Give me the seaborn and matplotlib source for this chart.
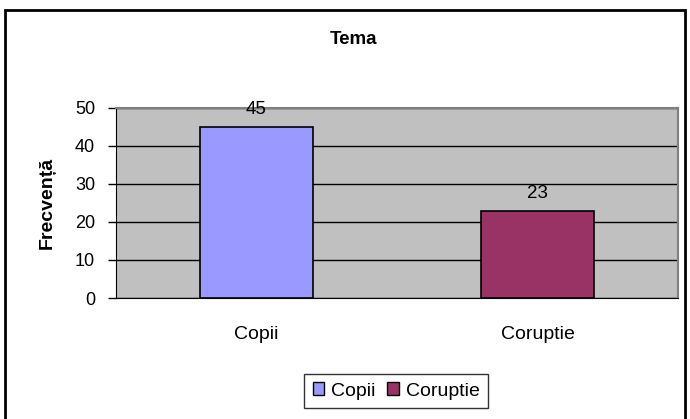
import matplotlib
matplotlib.use("Agg")
import matplotlib.pyplot as plt
import seaborn as sns
import pandas as pd
from matplotlib.patches import Rectangle

# Data
categories = ["Copii", "Coruptie"]
values = [45, 23]
colors = ["#9999FF", "#993366"]

df = pd.DataFrame({"Tema": categories, "Frecventa": values})

sns.set_style("white")
plt.rcParams["font.family"] = ["Liberation Sans", "DejaVu Sans"]
plt.rcParams["text.color"] = "black"
plt.rcParams["xtick.color"] = "black"
plt.rcParams["ytick.color"] = "black"
plt.rcParams["axes.labelcolor"] = "black"

fig = plt.figure(figsize=(6.9, 4.19), dpi=100)
ax = fig.add_axes([116 / 690, 1 - 298 / 419, (678 - 116) / 690, (298 - 108) / 419])

sns.barplot(data=df, x="Tema", y="Frecventa", hue="Tema", palette=colors,
            saturation=1, dodge=False, width=0.405, edgecolor="black",
            linewidth=1.2, legend=False, ax=ax, zorder=3)

ax.set_facecolor("#C0C0C0")
ax.set_xlim(-0.5, 1.5)
ax.set_ylim(0, 50)
ax.set_yticks(range(0, 51, 10))
ax.yaxis.grid(True, color="black", linewidth=1)
ax.set_axisbelow(True)
for s in ["top", "right"]:
    ax.spines[s].set_color("#808080")
    ax.spines[s].set_linewidth(1.5)
ax.spines["left"].set_color("black")
ax.spines["bottom"].set_color("black")

ax.tick_params(axis="y", direction="out", length=6, width=1, labelsize=13, left=True, pad=9)
ax.tick_params(axis="x", length=0, labelsize=14, pad=20)
ax.set_xticks([0, 1])
ax.set_xticklabels(categories)
# ticks on the category boundaries
ax.set_xticks([-0.5, 0.5, 1.5], minor=True)
ax.tick_params(axis="x", which="minor", direction="out", length=6, width=1)

ax.set_xlabel("")
ax.set_ylabel("Frecvență", fontsize=14, fontweight="bold", labelpad=14)

for i, v in enumerate(values):
    ax.text(i, v + 2.3, str(v), ha="center", va="bottom", fontsize=13.5, zorder=4)

fig.text(353 / 690, 1 - 40 / 419, "Tema", ha="center", va="center",
         fontsize=13.5, fontweight="bold")

handles = [Rectangle((0, 0), 1, 1, facecolor=c, edgecolor="black", linewidth=1)
           for c in colors]
leg = fig.legend(handles, categories, loc="center", bbox_to_anchor=(396 / 690, 1 - 391 / 419),
                 ncol=2, frameon=True, fancybox=False, fontsize=14,
                 handlelength=0.6, handleheight=0.6, handletextpad=0.35,
                 columnspacing=0.6, borderpad=0.45, borderaxespad=0)
leg.get_frame().set_edgecolor("black")
leg.get_frame().set_linewidth(1)

# outer chart border
fig.patches.append(Rectangle((5 / 690, -0.01), (685 - 5) / 690, 1 - 10 / 419 + 0.01,
                             transform=fig.transFigure, fill=False,
                             edgecolor="black", linewidth=2))

fig.savefig("out.png", dpi=100)
